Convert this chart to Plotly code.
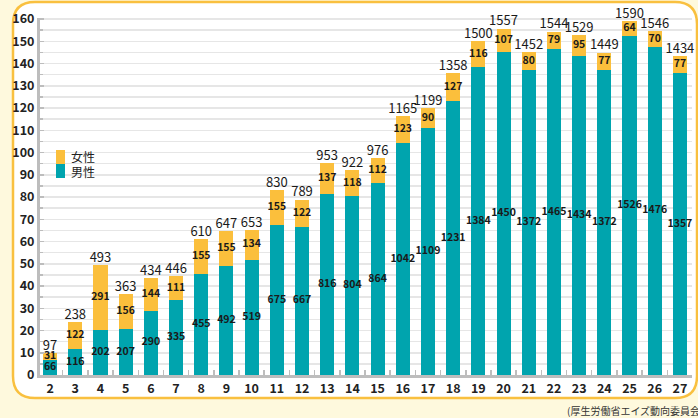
import plotly.graph_objects as go

years = [str(y) for y in range(2, 28)]
male = [66, 116, 202, 207, 290, 335, 455, 492, 519, 675, 667, 816, 804, 864,
        1042, 1109, 1231, 1384, 1450, 1372, 1465, 1434, 1372, 1526, 1476, 1357]
female = [31, 122, 291, 156, 144, 111, 155, 155, 134, 155, 122, 137, 118, 112,
          123, 90, 127, 116, 107, 80, 79, 95, 77, 64, 70, 77]
total = [m + f for m, f in zip(male, female)]
scale = 10  # axis unit = 10 people
y_ticks = list(range(0, 161, 10))

TEAL = "#00a4ae"
ORANGE = "#fbbf3c"
FONT = "Noto Sans CJK JP"

male_h = [m / scale for m in male]
female_h = [f / scale for f in female]
tot_h = [t / scale for t in total]

fig = go.Figure()
fig.add_trace(go.Bar(x=years, y=male_h, marker=dict(color=TEAL, line=dict(width=0)),
                     width=0.56, name="男性", showlegend=False, hoverinfo="skip"))
fig.add_trace(go.Bar(x=years, y=female_h, marker=dict(color=ORANGE, line=dict(width=0)),
                     width=0.56, name="女性", showlegend=False, hoverinfo="skip"))

inner_font = dict(family=FONT, size=10.5, color="#1a1a1a", weight="bold")
# male labels (middle of teal segment)
fig.add_trace(go.Scatter(x=years, y=[h / 2 for h in male_h], mode="text",
                         text=[str(v) for v in male], textposition="middle center",
                         textfont=inner_font,
                         showlegend=False, hoverinfo="skip", cliponaxis=False))
# female labels (middle of orange segment)
fig.add_trace(go.Scatter(x=years, y=[m + f / 2 for m, f in zip(male_h, female_h)], mode="text",
                         text=[str(v) for v in female], textposition="middle center",
                         textfont=inner_font,
                         showlegend=False, hoverinfo="skip", cliponaxis=False))
# totals
fig.add_trace(go.Scatter(x=years, y=tot_h, mode="text",
                         text=[str(v) for v in total], textposition="top center",
                         textfont=dict(family=FONT, size=13, color="#1a1a1a"),
                         showlegend=False, hoverinfo="skip", cliponaxis=False))

L, R, T, B = 40, 6, 18, 43
W, H = 698, 418
pw, ph = W - L - R, H - T - B

def px(x):
    return (x - L) / pw

def py(y):
    return (H - B - y) / ph

# rounded white panel
x0, x1, y0, y1 = px(13), px(697), py(2), py(398)
rx, ry = 22 / pw, 22 / ph
path = (f"M {x0+rx},{y0} L {x1-rx},{y0} Q {x1},{y0} {x1},{y0-ry} "
        f"L {x1},{y1+ry} Q {x1},{y1} {x1-rx},{y1} L {x0+rx},{y1} "
        f"Q {x0},{y1} {x0},{y1+ry} L {x0},{y0-ry} Q {x0},{y0} {x0+rx},{y0} Z")
shapes = [dict(type="path", xref="paper", yref="paper", path=path,
               fillcolor="white", line=dict(color="#f9c03f", width=2.5), layer="below")]
# legend swatches
shapes.append(dict(type="rect", xref="paper", yref="paper", x0=px(56), x1=px(65),
                   y0=py(164), y1=py(150), fillcolor=ORANGE, line=dict(width=0)))
shapes.append(dict(type="rect", xref="paper", yref="paper", x0=px(56), x1=px(65),
                   y0=py(178), y1=py(164), fillcolor=TEAL, line=dict(width=0)))

annotations = [
    dict(xref="paper", yref="paper", x=px(69), y=py(157), text="女性", showarrow=False,
         xanchor="left", yanchor="middle", font=dict(family=FONT, size=12, color="#222")),
    dict(xref="paper", yref="paper", x=px(69), y=py(171), text="男性", showarrow=False,
         xanchor="left", yanchor="middle", font=dict(family=FONT, size=12, color="#222")),
    dict(xref="paper", yref="paper", x=px(565), y=py(410), text="(厚生労働省エイズ動向委員会)",
         showarrow=False, xanchor="left", yanchor="middle",
         font=dict(family=FONT, size=10, color="#333")),
]

fig.update_layout(
    width=W, height=H, barmode="stack",
    margin=dict(l=L, r=R, t=T, b=B, autoexpand=False),
    paper_bgcolor="#fef9dd", plot_bgcolor="rgba(0,0,0,0)",
    shapes=shapes, annotations=annotations, showlegend=False,
    font=dict(family=FONT, color="#222"),
)
tick_font = dict(family=FONT, size=12.5, color="#222", weight="bold")
fig.update_xaxes(type="category", categoryorder="array", categoryarray=years,
                 range=[-0.4, 25.48], tickson="boundaries", ticks="inside", ticklen=5,
                 tickcolor="#bdbdbd", tickwidth=1.5,
                 showline=True, linecolor="#bdbdbd", linewidth=3, showgrid=False,
                 tickfont=tick_font, fixedrange=True)
fig.update_yaxes(range=[0, 160.5], tickvals=y_ticks, ticks="inside", ticklen=4,
                 tickcolor="#bdbdbd", tickwidth=1.5,
                 showline=True, linecolor="#bdbdbd", linewidth=3,
                 showgrid=True, gridcolor="#e6e6e6", gridwidth=1.5,
                 minor=dict(dtick=5, tick0=0, showgrid=True, gridcolor="#e6e6e6", gridwidth=1.5,
                            ticks="inside", ticklen=3, tickcolor="#bdbdbd"),
                 zeroline=False,
                 tickfont=tick_font, fixedrange=True)

fig.write_html("out.html", config={"displayModeBar": False, "staticPlot": True},
               post_script="document.body.style.margin='0';document.body.style.background='#fef9dd';")
